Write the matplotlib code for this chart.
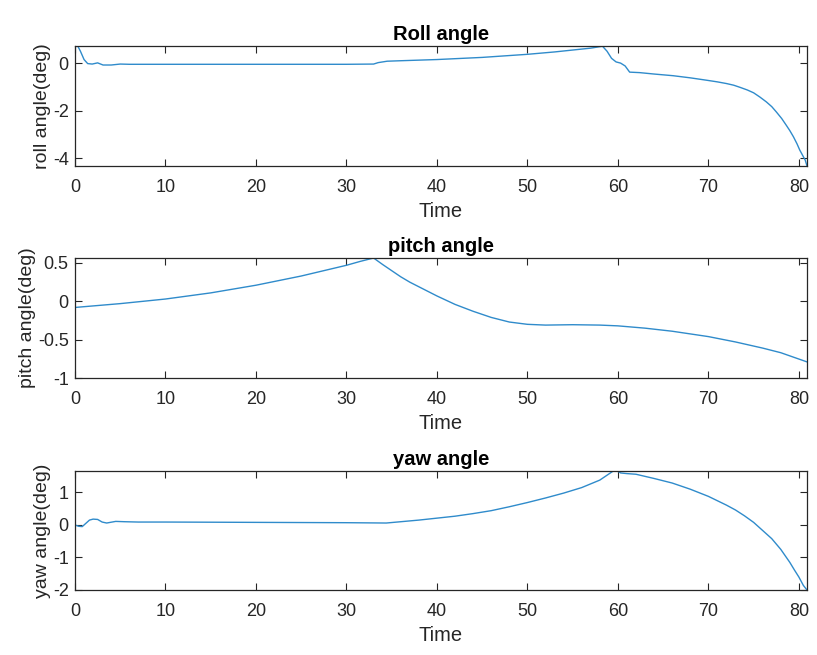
import matplotlib
matplotlib.use("Agg")
import matplotlib.pyplot as plt

# ---- data ----
roll_t = [0, 0.3, 0.6, 1.0, 1.4, 1.9, 2.5, 3.1, 4.0, 5.0, 6, 10, 20, 30, 33, 33.5, 34.5, 36,
          40, 45, 50, 53, 55, 57, 58.3, 58.8, 59.3, 59.8, 60.3, 60.8, 61.3, 62.4, 64, 66.1,
          68, 69.8, 71, 72, 72.8, 73.5, 74.3, 75, 75.7, 76.4, 77, 77.5, 78.1, 78.6, 79, 79.4,
          79.8, 80.1, 80.4, 80.7, 80.9]
roll_v = [0.69, 0.72, 0.5, 0.15, -0.02, -0.04, 0.01, -0.08, -0.08, -0.04, -0.05, -0.05, -0.05,
          -0.05, -0.04, 0.02, 0.08, 0.1, 0.15, 0.24, 0.37, 0.47, 0.55, 0.63, 0.71, 0.5, 0.2,
          0.05, 0.0, -0.12, -0.38, -0.40, -0.46, -0.53, -0.62, -0.72, -0.79, -0.86, -0.93,
          -1.02, -1.13, -1.25, -1.43, -1.63, -1.83, -2.05, -2.33, -2.61, -2.84, -3.10, -3.40,
          -3.66, -3.87, -4.08, -4.33]

pitch_t = [0, 2.5, 5, 7.5, 10, 12.5, 15, 17.5, 20, 22.5, 25, 27.5, 30, 31.5, 33, 34, 35, 36,
           37, 38, 40, 42, 44, 46, 48, 50, 52, 55, 58, 60, 63, 66, 70, 73, 76, 78, 80.9]
pitch_v = [-0.08, -0.055, -0.03, 0.0, 0.03, 0.07, 0.11, 0.16, 0.21, 0.27, 0.33, 0.40, 0.47,
           0.52, 0.565, 0.48, 0.40, 0.32, 0.25, 0.19, 0.07, -0.04, -0.13, -0.21, -0.27, -0.30,
           -0.31, -0.305, -0.31, -0.32, -0.35, -0.39, -0.46, -0.53, -0.61, -0.67, -0.79]

yaw_t = [0, 0.4, 0.8, 1.2, 1.6, 2.0, 2.5, 3.0, 3.5, 4.5, 5.5, 7, 10, 20, 30, 34.4, 36, 38, 40,
         42, 44, 46, 48, 50, 52, 54, 56, 58, 59.7, 60.3, 61, 62, 64, 66, 68, 70, 72, 73,
         74, 75, 76, 77, 78, 79, 79.5, 80, 80.5, 80.9]
yaw_v = [0, -0.04, -0.05, 0.05, 0.15, 0.18, 0.17, 0.09, 0.06, 0.11, 0.1, 0.09, 0.09, 0.08,
         0.07, 0.06, 0.1, 0.15, 0.21, 0.27, 0.35, 0.44, 0.56, 0.69, 0.83, 0.98, 1.15, 1.38,
         1.7, 1.6, 1.58, 1.56, 1.43, 1.29, 1.10, 0.88, 0.61, 0.46, 0.28, 0.08, -0.17, -0.42,
         -0.75, -1.15, -1.38, -1.6, -1.86, -2.0]

titles = ["Roll angle", "pitch angle", "yaw angle"]
ylabels = ["roll angle(deg)", "pitch angle(deg)", "yaw angle(deg)"]
xlabel = "Time"
xticks = [0, 10, 20, 30, 40, 50, 60, 70, 80]
yticks_list = [[-4, -2, 0], [-1, -0.5, 0, 0.5], [-2, -1, 0, 1]]
ylims = [(-4.33, 0.72), (-1.0, 0.565), (-2.0, 1.66)]
xlim = (0, 80.9)

# ---- styling ----
plt.rcParams['font.family'] = ['Liberation Sans', 'DejaVu Sans']
W, H = 817, 655
fig = plt.figure(figsize=(W / 100, H / 100), dpi=100)

left = 75 / W
width = (807 - 75) / W
boxes = [(46, 166), (258, 378), (471, 590)]
series = [(roll_t, roll_v), (pitch_t, pitch_v), (yaw_t, yaw_v)]
line_color = '#2f8bcb'
axis_color = '#262626'

for i, ((top, bot), (t, v)) in enumerate(zip(boxes, series)):
    ax = fig.add_axes([left, 1 - bot / H, width, (bot - top) / H])
    ax.plot(t, v, color=line_color, linewidth=1.0)
    ax.set_xlim(*xlim)
    ax.set_ylim(*ylims[i])
    ax.set_xticks(xticks)
    ax.set_yticks(yticks_list[i])
    ax.set_yticklabels([('%g' % y) for y in yticks_list[i]])
    ax.tick_params(direction='in', top=True, right=True, length=5, width=0.8,
                   labelsize=13, colors=axis_color)
    ax.tick_params(axis='x', pad=9.5)
    ax.tick_params(axis='y', pad=4.5)
    for s in ax.spines.values():
        s.set_color(axis_color)
        s.set_linewidth(0.9)
    ax.set_title(titles[i], fontsize=14.5, fontweight='bold', color='black', pad=4)
    ax.set_xlabel(xlabel, fontsize=14.5, color=axis_color, labelpad=4.5)
    ax.set_ylabel(ylabels[i], fontsize=14, color=axis_color, labelpad=1)

fig.savefig("out.png", dpi=100)
